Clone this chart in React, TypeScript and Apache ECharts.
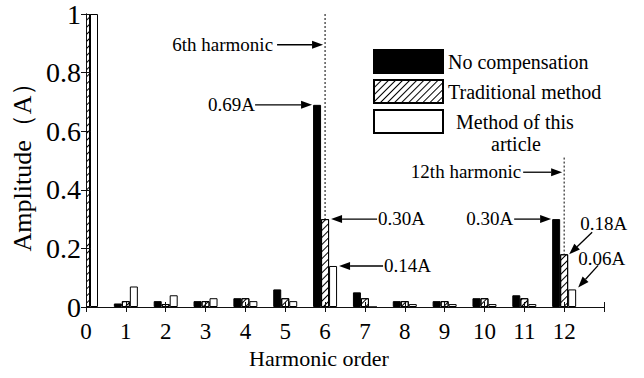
import React, { useEffect, useRef } from "react";
import * as echarts from "echarts";

const harmonics = [0, 1, 2, 3, 4, 5, 6, 7, 8, 9, 10, 11, 12];
const noCompensation = [1, 0.012, 0.02, 0.02, 0.03, 0.06, 0.69, 0.05, 0.02, 0.02, 0.03, 0.04, 0.3];
const traditional = [1, 0.02, 0.01, 0.02, 0.03, 0.03, 0.3, 0.03, 0.02, 0.02, 0.03, 0.03, 0.18];
const proposed = [1, 0.07, 0.04, 0.03, 0.02, 0.02, 0.14, 0, 0.01, 0.01, 0.01, 0.01, 0.06];
const seriesNames = ["No compensation", "Traditional method", "Method of this"];
const legendExtraLine = "article";
const yTicks = [0, 0.2, 0.4, 0.6, 0.8, 1];
const xLabel = "Harmonic order";
const yLabel = "Amplitude（A）";

const FONT = '"Liberation Serif", "Times New Roman", serif';

const hatch = {
  symbol: "rect",
  symbolSize: 1,
  color: "#000",
  dashArrayX: [1, 0],
  dashArrayY: [1, 4],
  rotation: -Math.PI / 4,
};

export default function App() {
  const ref = useRef<HTMLDivElement>(null);
  useEffect(() => {
    if (!ref.current) return;
    const chart = echarts.init(ref.current, null, { renderer: "svg" });
    const axisLine = { show: true, lineStyle: { color: "#111", width: 1 } };
    const tick = { show: true, inside: true, length: 5, lineStyle: { color: "#111" } };
    const option: any = {
      animation: false,
      backgroundColor: "#fff",
      grid: { left: 86, right: 40, top: 14, bottom: 71, containLabel: false },
      legend: {
        orient: "vertical",
        left: 373,
        top: 49,
        itemWidth: 69,
        itemHeight: 23,
        itemGap: 5,
        icon: "rect",
        selectedMode: false,
        padding: 0,
        textStyle: { fontSize: 20, fontFamily: FONT, color: "#000" },
        data: [
          { name: seriesNames[0] },
          { name: seriesNames[1] },
          { name: seriesNames[2], textStyle: { padding: [0, 0, 0, 8] } },
        ],
      },
      xAxis: [
        {
          type: "value",
          position: "bottom",
          min: 0,
          max: 13,
          interval: 1,
          z: 10,
          axisLine,
          axisTick: tick,
          splitLine: { show: false },
          axisLabel: {
            fontSize: 23,
            fontFamily: FONT,
            color: "#000",
            margin: 13,
            formatter: (v: number) => (v > 12 ? "" : String(v)),
          },
          name: xLabel,
          nameLocation: "middle",
          nameGap: 37,
          nameTextStyle: { fontSize: 22, fontFamily: FONT, color: "#000", padding: [0, 52, 0, 0] },
        },
        {
          type: "value",
          position: "top",
          min: 0,
          max: 13,
          interval: 1,
          z: 10,
          axisLine,
          axisTick: tick,
          splitLine: { show: false },
          axisLabel: { show: false },
        },
      ],
      yAxis: [
        {
          type: "value",
          min: yTicks[0],
          max: yTicks[yTicks.length - 1],
          interval: 0.2,
          z: 10,
          axisLine,
          axisTick: tick,
          splitLine: { show: false },
          axisLabel: { fontSize: 28, fontFamily: FONT, color: "#000", margin: 5 },
          name: yLabel,
          nameLocation: "middle",
          nameGap: 45,
          nameTextStyle: { fontSize: 26, fontFamily: FONT, color: "#000" },
        },
        {
          type: "value",
          position: "right",
          min: 0,
          max: 1,
          interval: 0.2,
          z: 10,
          axisLine,
          axisTick: tick,
          splitLine: { show: false },
          axisLabel: { show: false },
        },
      ],
      series: [
        {
          name: seriesNames[0],
          type: "bar",
          barWidth: 8,
          barGap: "0%",
          itemStyle: { color: "#000", borderColor: "#000", borderWidth: 1 },
          data: harmonics.map((h, i) => [h, noCompensation[i]]),
        },
        {
          name: seriesNames[1],
          type: "bar",
          barWidth: 8,
          barGap: "0%",
          itemStyle: { color: "#fff", borderColor: "#000", borderWidth: 1, decal: hatch },
          data: harmonics.map((h, i) => [h, traditional[i]]),
        },
        {
          name: seriesNames[2],
          type: "bar",
          barWidth: 8,
          barGap: "0%",
          itemStyle: { color: "#fff", borderColor: "#000", borderWidth: 1 },
          data: harmonics.map((h, i) => [h, proposed[i]]),
        },
      ],
    };
    chart.setOption(option);

    const px = (x: number, y: number) =>
      chart.convertToPixel({ xAxisIndex: 0, yAxisIndex: 0 }, [x, y]) as number[];
    const tf = { fontSize: 19, fontFamily: FONT, fill: "#000" };
    const arrow = (x1: number, y1: number, x2: number, y2: number) => {
      const a = Math.atan2(y2 - y1, x2 - x1);
      const L = 11, W = 4;
      const bx = x2 - L * Math.cos(a), by = y2 - L * Math.sin(a);
      return [
        { type: "line", z: 20, shape: { x1, y1, x2: bx, y2: by }, style: { stroke: "#000", lineWidth: 1.3 } },
        {
          type: "polygon",
          z: 20,
          shape: {
            points: [
              [x2, y2],
              [bx + W * Math.sin(a), by - W * Math.cos(a)],
              [bx - W * Math.sin(a), by + W * Math.cos(a)],
            ],
          },
          style: { fill: "#000" },
        },
      ];
    };
    const text = (t: string, x: number, y: number, align: string) => ({
      type: "text",
      z: 20,
      x,
      y,
      style: { ...tf, text: t, align, verticalAlign: "middle" },
    });
    const dotted = (x: number, y1: number, y2: number) => ({
      type: "line",
      z: 20,
      shape: { x1: x, y1, x2: x, y2 },
      style: { stroke: "#000", lineWidth: 1, lineDash: [2, 2] },
    });
    const fmt = (v: number) => v.toFixed(2) + "A";

    const [x0, y0] = px(0, 0);
    const [x6, top] = px(6, 1);
    const y6a = px(6, noCompensation[6])[1];
    const y6b = px(6, traditional[6])[1];
    const y6c = px(6, proposed[6])[1];
    const y6arrow = px(6, 0.895)[1];
    const [x12] = px(12, 0);
    const y12a = px(12, noCompensation[12])[1];
    const y12b = px(12, traditional[12])[1];
    const y12c = px(12, proposed[12])[1];
    const y12top = px(12, 0.51)[1];
    const y12arrow = px(12, 0.46)[1];

    const graphic: any[] = [
      // mask: hides the part of the 0th-harmonic bars that lies left of the plot area
      {
        type: "rect",
        z: 5,
        shape: { x: x0 - 40, y: top - 2, width: 40, height: y0 - top + 2 },
        style: { fill: "#fff" },
      },
      dotted(x6, top, y6b),
      ...arrow(x6 - 48, y6arrow, x6 - 2, y6arrow),
      text("6th harmonic", x6 - 52, y6arrow, "right"),
      ...arrow(x6 - 70, y6a, x6 - 13, y6a),
      text(fmt(noCompensation[6]), x6 - 70, y6a, "right"),
      ...arrow(x6 + 52, y6b, x6 + 6, y6b),
      text(fmt(traditional[6]), x6 + 53, y6b - 1, "left"),
      ...arrow(x6 + 58, y6c, x6 + 14, y6c),
      text(fmt(proposed[6]), x6 + 59, y6c, "left"),
      dotted(x12, y12top, y12b),
      ...arrow(x12 - 41, y12arrow, x12 - 2, y12arrow),
      text("12th harmonic", x12 - 43, y12arrow - 1, "right"),
      ...arrow(x12 - 50, y12a, x12 - 13, y12a),
      text(fmt(noCompensation[12]), x12 - 51, y12a - 1, "right"),
      ...arrow(x12 + 28, y12b - 22, x12 + 5, y12b),
      text(fmt(traditional[12]), x12 + 16, y12b - 31, "left"),
      ...arrow(x12 + 34, y12c - 24, x12 + 14, y12c - 2),
      text(fmt(proposed[12]), x12 + 14, y12c - 31, "left"),
      {
        type: "text",
        z: 20,
        x: 516,
        y: 144,
        style: { fontSize: 20, fontFamily: FONT, fill: "#000", text: legendExtraLine, align: "center", verticalAlign: "middle" },
      },
    ];
    chart.setOption({ graphic });
    return () => chart.dispose();
  }, []);
  return (
    <div
      ref={ref}
      style={{ position: "fixed", left: 0, top: 0, width: 644, height: 378, background: "#fff" }}
    />
  );
}
